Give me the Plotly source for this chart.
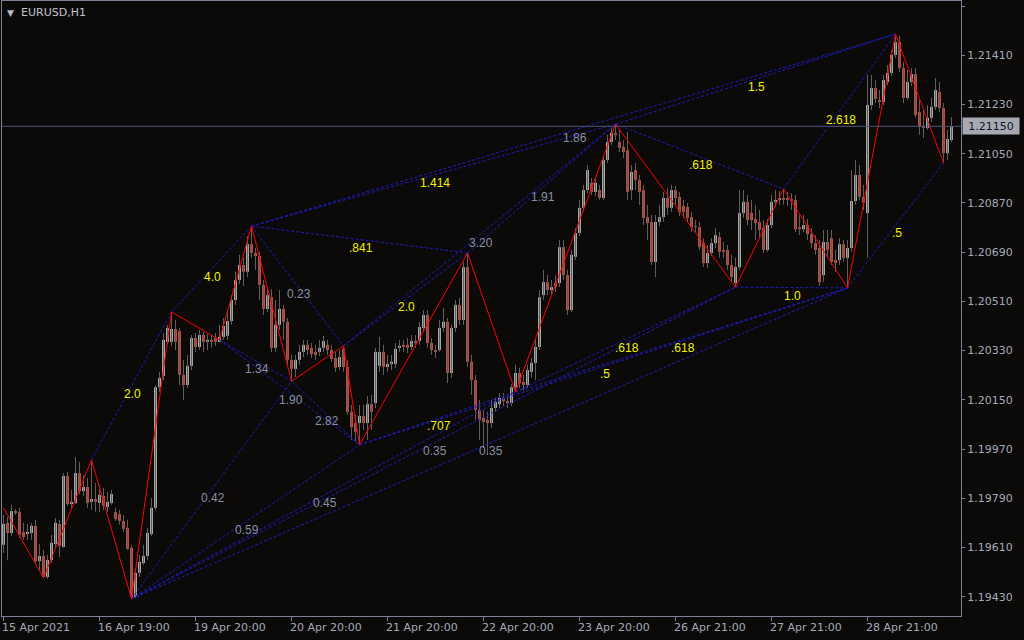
import plotly.graph_objects as go

# ---------------- data (EURUSD H1) ----------------
bar_open = [1.19620,1.19700,1.19663,1.19743,1.19740,1.19667,1.19659,1.19663,1.19689,1.19560,
1.19579,1.19502,1.19564,1.19623,1.19696,1.19612,1.19871,1.19769,1.19773,1.19882,
1.19816,1.19831,1.19777,1.19787,1.19773,1.19798,1.19758,1.19773,1.19740,1.19732,
1.19707,1.19682,1.19609,1.19429,1.19517,1.19553,1.19579,1.19659,1.19755,1.20196,
1.20237,1.20362,1.20362,1.20409,1.20401,1.20241,1.20204,1.20274,1.20376,1.20343,
1.20387,1.20362,1.20369,1.20376,1.20362,1.20380,1.20384,1.20438,1.20515,1.20588,
1.20643,1.20618,1.20719,1.20687,1.20676,1.20570,1.20482,1.20525,1.20340,1.20424,
1.20482,1.20435,1.20296,1.20263,1.20296,1.20325,1.20351,1.20340,1.20325,1.20325,
1.20340,1.20351,1.20332,1.20303,1.20270,1.20336,1.20270,1.20106,1.20065,1.20065,
1.20091,1.20065,1.20134,1.20138,1.20274,1.20325,1.20270,1.20281,1.20281,1.20340,
1.20351,1.20351,1.20343,1.20365,1.20365,1.20413,1.20460,1.20358,1.20332,1.20332,
1.20413,1.20435,1.20248,1.20413,1.20497,1.20442,1.20635,1.20289,1.20222,1.20113,
1.20084,1.20076,1.20065,1.20120,1.20134,1.20157,1.20145,1.20138,1.20196,1.20248,
1.20215,1.20204,1.20252,1.20285,1.20343,1.20533,1.20580,1.20551,1.20577,1.20577,
1.20708,1.20606,1.20478,1.20673,1.20760,1.20852,1.20917,1.20943,1.20910,1.20917,
1.20888,1.21027,1.21093,1.21126,1.21093,1.21075,1.21063,1.20917,1.20990,1.20954,
1.20917,1.20818,1.20800,1.20654,1.20800,1.20818,1.20888,1.20852,1.20917,1.20892,
1.20859,1.20855,1.20818,1.20785,1.20781,1.20723,1.20650,1.20687,1.20723,1.20745,
1.20698,1.20698,1.20643,1.20577,1.20635,1.20833,1.20874,1.20833,1.20811,1.20800,
1.20778,1.20698,1.20789,1.20874,1.20881,1.20888,1.20888,1.20884,1.20881,1.20781,
1.20774,1.20789,1.20756,1.20723,1.20705,1.20606,1.20727,1.20741,1.20661,1.20661,
1.20719,1.20669,1.20705,1.20877,1.20972,1.20892,1.20833,1.21228,1.21290,1.21246,
1.21239,1.21312,1.21345,1.21411,1.21458,1.21363,1.21254,1.21312,1.21341,1.21202,
1.21148,1.21144,1.21181,1.21221,1.21276,1.21217,1.21052,1.21100]

bar_close = [1.19696,1.19663,1.19743,1.19736,1.19656,1.19648,1.19667,1.19689,1.19560,1.19579,
1.19502,1.19564,1.19627,1.19700,1.19616,1.19871,1.19769,1.19777,1.19882,1.19816,
1.19831,1.19773,1.19787,1.19777,1.19802,1.19762,1.19777,1.19805,1.19714,1.19707,
1.19678,1.19605,1.19429,1.19517,1.19557,1.19579,1.19663,1.19755,1.20196,1.20230,
1.20369,1.20413,1.20409,1.20362,1.20241,1.20204,1.20274,1.20376,1.20343,1.20387,
1.20362,1.20369,1.20362,1.20362,1.20380,1.20420,1.20438,1.20515,1.20588,1.20643,
1.20618,1.20719,1.20687,1.20676,1.20570,1.20482,1.20533,1.20340,1.20424,1.20482,
1.20435,1.20296,1.20263,1.20296,1.20325,1.20351,1.20332,1.20317,1.20314,1.20340,
1.20365,1.20332,1.20299,1.20267,1.20306,1.20270,1.20106,1.20050,1.20033,1.20091,
1.20065,1.20134,1.20106,1.20325,1.20325,1.20270,1.20281,1.20289,1.20336,1.20347,
1.20343,1.20340,1.20365,1.20358,1.20416,1.20460,1.20358,1.20332,1.20325,1.20413,
1.20435,1.20248,1.20413,1.20497,1.20442,1.20635,1.20289,1.20222,1.20113,1.20076,
1.20069,1.20065,1.20120,1.20142,1.20157,1.20145,1.20138,1.20196,1.20248,1.20211,
1.20204,1.20259,1.20285,1.20343,1.20525,1.20580,1.20551,1.20562,1.20562,1.20708,
1.20606,1.20478,1.20680,1.20760,1.20852,1.20917,1.20990,1.20910,1.20943,1.20888,
1.21027,1.21093,1.21126,1.21119,1.21071,1.21056,1.20910,1.20983,1.20954,1.20910,
1.20815,1.20796,1.20654,1.20800,1.20818,1.20888,1.20852,1.20917,1.20888,1.20837,
1.20837,1.20815,1.20781,1.20781,1.20708,1.20650,1.20687,1.20723,1.20752,1.20691,
1.20691,1.20643,1.20599,1.20635,1.20833,1.20874,1.20807,1.20807,1.20796,1.20771,
1.20698,1.20789,1.20874,1.20881,1.20888,1.20881,1.20881,1.20877,1.20774,1.20774,
1.20789,1.20756,1.20723,1.20698,1.20580,1.20727,1.20698,1.20654,1.20650,1.20719,
1.20669,1.20705,1.20877,1.20972,1.20892,1.20870,1.21228,1.21290,1.21250,1.21239,
1.21319,1.21345,1.21411,1.21458,1.21363,1.21254,1.21312,1.21341,1.21191,1.21148,
1.21144,1.21181,1.21221,1.21283,1.21217,1.21052,1.21104,1.21150]

bar_high = [1.19729,1.19721,1.19766,1.19751,1.19755,1.19700,1.19696,1.19700,1.19711,1.19623,
1.19601,1.19583,1.19656,1.19718,1.19711,1.19882,1.19886,1.19820,1.19941,1.19923,
1.19875,1.19864,1.19930,1.19846,1.19839,1.19828,1.19813,1.19820,1.19755,1.19747,
1.19729,1.19711,1.19620,1.19528,1.19583,1.19620,1.19682,1.19791,1.20204,1.20252,
1.20394,1.20424,1.20471,1.20442,1.20413,1.20296,1.20314,1.20387,1.20394,1.20405,
1.20398,1.20390,1.20387,1.20394,1.20424,1.20449,1.20478,1.20533,1.20618,1.20680,
1.20669,1.20749,1.20785,1.20705,1.20691,1.20588,1.20559,1.20555,1.20515,1.20551,
1.20497,1.20449,1.20314,1.20314,1.20351,1.20369,1.20369,1.20358,1.20351,1.20369,
1.20384,1.20369,1.20351,1.20325,1.20332,1.20347,1.20296,1.20131,1.20095,1.20131,
1.20131,1.20164,1.20168,1.20340,1.20380,1.20351,1.20314,1.20314,1.20358,1.20369,
1.20369,1.20376,1.20387,1.20387,1.20435,1.20478,1.20478,1.20376,1.20351,1.20442,
1.20486,1.20449,1.20424,1.20515,1.20522,1.20654,1.20687,1.20314,1.20241,1.20149,
1.20113,1.20106,1.20149,1.20157,1.20175,1.20175,1.20164,1.20207,1.20278,1.20267,
1.20241,1.20278,1.20303,1.20369,1.20551,1.20625,1.20606,1.20588,1.20606,1.20734,
1.20734,1.20625,1.20698,1.20778,1.20881,1.20936,1.21009,1.20961,1.20961,1.20936,
1.21045,1.21119,1.21144,1.21158,1.21137,1.21100,1.21130,1.21009,1.21016,1.20972,
1.20936,1.20863,1.20826,1.20826,1.20863,1.20910,1.20925,1.20936,1.20932,1.20910,
1.20881,1.20870,1.20837,1.20807,1.20800,1.20741,1.20716,1.20741,1.20778,1.20764,
1.20727,1.20716,1.20680,1.20669,1.20917,1.20917,1.20899,1.20881,1.20863,1.20844,
1.20807,1.20811,1.20899,1.20917,1.20914,1.20921,1.20910,1.20906,1.20899,1.20826,
1.20826,1.20811,1.20778,1.20752,1.20734,1.20771,1.20771,1.20771,1.20698,1.20741,
1.20734,1.20734,1.20990,1.21027,1.21009,1.20936,1.21338,1.21338,1.21319,1.21283,
1.21338,1.21374,1.21429,1.21487,1.21480,1.21385,1.21356,1.21363,1.21363,1.21246,
1.21210,1.21228,1.21254,1.21327,1.21312,1.21235,1.21137,1.21184]

bar_low = [1.19590,1.19564,1.19652,1.19729,1.19645,1.19638,1.19638,1.19638,1.19553,1.19528,
1.19499,1.19495,1.19553,1.19609,1.19575,1.19609,1.19762,1.19755,1.19769,1.19805,
1.19798,1.19755,1.19747,1.19740,1.19740,1.19747,1.19740,1.19766,1.19707,1.19693,
1.19667,1.19601,1.19422,1.19426,1.19502,1.19546,1.19564,1.19652,1.19747,1.20179,
1.20222,1.20351,1.20347,1.20332,1.20204,1.20149,1.20193,1.20259,1.20325,1.20332,
1.20325,1.20332,1.20340,1.20347,1.20365,1.20369,1.20369,1.20424,1.20497,1.20573,
1.20566,1.20599,1.20669,1.20625,1.20515,1.20460,1.20471,1.20325,1.20325,1.20405,
1.20369,1.20278,1.20218,1.20233,1.20278,1.20306,1.20314,1.20303,1.20296,1.20310,
1.20325,1.20314,1.20289,1.20252,1.20259,1.20252,1.20095,1.20003,1.19996,1.19985,
1.20040,1.20003,1.20040,1.20120,1.20252,1.20241,1.20252,1.20259,1.20267,1.20325,
1.20325,1.20321,1.20332,1.20340,1.20351,1.20398,1.20340,1.20314,1.20303,1.20325,
1.20398,1.20211,1.20230,1.20398,1.20424,1.20424,1.20270,1.20168,1.20076,1.20003,
1.19974,1.19949,1.20047,1.20106,1.20120,1.20127,1.20120,1.20127,1.20179,1.20193,
1.20186,1.20193,1.20230,1.20222,1.20332,1.20515,1.20533,1.20536,1.20544,1.20562,
1.20588,1.20460,1.20471,1.20661,1.20749,1.20837,1.20906,1.20899,1.20895,1.20881,
1.20881,1.21016,1.21082,1.21100,1.21056,1.21034,1.20881,1.20881,1.20917,1.20863,
1.20789,1.20734,1.20643,1.20599,1.20785,1.20800,1.20826,1.20837,1.20863,1.20822,
1.20815,1.20800,1.20764,1.20764,1.20698,1.20635,1.20632,1.20676,1.20705,1.20669,
1.20669,1.20625,1.20581,1.20562,1.20625,1.20815,1.20789,1.20771,1.20734,1.20745,
1.20687,1.20691,1.20778,1.20855,1.20863,1.20863,1.20859,1.20844,1.20764,1.20752,
1.20764,1.20734,1.20705,1.20680,1.20566,1.20580,1.20669,1.20643,1.20618,1.20643,
1.20654,1.20559,1.20691,1.20863,1.20881,1.20844,1.20669,1.21210,1.21235,1.21217,
1.21228,1.21301,1.21334,1.21400,1.21349,1.21235,1.21246,1.21297,1.21181,1.21119,
1.21108,1.21137,1.21166,1.21210,1.21202,1.21016,1.21027,1.21093]

time_label_bars = [0, 24, 48, 72, 96, 120, 144, 168, 192, 216]
time_labels = ["15 Apr 2021", "16 Apr 19:00", "19 Apr 20:00", "20 Apr 20:00", "21 Apr 20:00",
               "22 Apr 20:00", "23 Apr 20:00", "26 Apr 21:00", "27 Apr 21:00", "28 Apr 21:00"]

price_ticks = [1.21590, 1.21410, 1.21230, 1.21050, 1.20870, 1.20690, 1.20510,
               1.20330, 1.20150, 1.19970, 1.19790, 1.19610, 1.19430]
bid_price = 1.21150
symbol_title = "EURUSD,H1"

# zigzag pivots (bar index, price)
pivot_bars = [0, 10, 22, 32, 42, 54, 62, 72, 85, 89, 116, 128, 153, 183, 195, 211, 223, 235]
pivot_prices = [1.19755, 1.19499, 1.19930, 1.19422, 1.20471, 1.20369, 1.20785, 1.20218, 1.20347,
                1.19985, 1.20687, 1.20179, 1.21158, 1.20562, 1.20921, 1.20559, 1.21487, 1.21016]

# pattern ratio lines: from pivot bar, to pivot bar, label
pattern_from = [22, 42, 85, 62, 62, 89, 89, 128, 128, 153, 153, 183, 195, 211]
pattern_to = [42, 62, 116, 116, 153, 128, 211, 183, 211, 195, 223, 211, 223, 235]
pattern_text = ["2.0", "4.0", "2.0", ".841", "1.414", ".707", ".5", ".618", ".618", ".618",
                "1.5", "1.0", "2.618", ".5"]

retr_from = [32, 32, 32, 32, 32, 54, 54, 62, 72, 85, 116, 62]
retr_to = [72, 89, 128, 183, 211, 72, 89, 85, 89, 153, 153, 223]
retr_text = ["0.42", "0.59", "0.45", "0.35", "0.35", "1.34", "1.90", "0.23", "2.82", "3.20",
             "1.91", "1.86"]

# ---------------- styling ----------------
BG = "#0c0a09"
FRAME = "#7c8294"
AXTXT = "#a3a9b8"
BULL = "#a5a5a5"
BEAR = "#c14a3b"
WICK = "#5f5f5f"
ZIG = "#ff0000"
DOT = "#1c1cc0"
YEL = "#f2f200"
GRY = "#8590a6"

n = len(bar_open)
idx = list(range(n))
piv = dict(zip(pivot_bars, pivot_prices))

fig = go.Figure()

# wicks
wx, wy = [], []
for i in idx:
    wx += [i, i, None]
    wy += [bar_low[i], bar_high[i], None]
fig.add_trace(go.Scatter(x=wx, y=wy, mode="lines", line=dict(color=WICK, width=1),
                         hoverinfo="skip", showlegend=False))

# bodies
base = [min(o, c) for o, c in zip(bar_open, bar_close)]
height = [max(abs(c - o), 0.000035) for o, c in zip(bar_open, bar_close)]
cols = [BULL if c >= o else BEAR for o, c in zip(bar_open, bar_close)]
fig.add_trace(go.Bar(x=idx, y=height, base=base, width=0.75,
                     marker=dict(color=cols, line=dict(width=0)),
                     hoverinfo="skip", showlegend=False))

# dotted ratio lines
lx, ly = [], []
for a, b in list(zip(pattern_from, pattern_to)) + list(zip(retr_from, retr_to)):
    lx += [a, b, None]
    ly += [piv[a], piv[b], None]
fig.add_trace(go.Scatter(x=lx, y=ly, mode="lines",
                         line=dict(color=DOT, width=1, dash="3px,2px"),
                         hoverinfo="skip", showlegend=False))

# zigzag
fig.add_trace(go.Scatter(x=pivot_bars, y=pivot_prices, mode="lines",
                         line=dict(color=ZIG, width=1), hoverinfo="skip", showlegend=False))

# bid line
fig.add_shape(type="line", xref="paper", x0=0, x1=1, yref="y", y0=bid_price, y1=bid_price,
              line=dict(color="#4e5478", width=1))

ann = []
def ratio_label(a, b, t, col):
    ann.append(dict(x=(a + b) / 2, y=(piv[a] + piv[b]) / 2, xref="x", yref="y", text=t,
                    showarrow=False, xanchor="center", yanchor="middle", xshift=1, yshift=-8,
                    font=dict(family="Liberation Sans, Arial", size=12, color=col)))

for a, b, t in zip(pattern_from, pattern_to, pattern_text):
    ratio_label(a, b, t, YEL)
for a, b, t in zip(retr_from, retr_to, retr_text):
    ratio_label(a, b, t, GRY)

for b, t in zip(time_label_bars, time_labels):
    ann.append(dict(x=b, y=0, xref="x", yref="paper", text=t, showarrow=False,
                    xanchor="left", yanchor="top", xshift=-4, yshift=-3,
                    font=dict(family="DejaVu Sans", size=11, color=AXTXT)))

ann.append(dict(x=0, y=1, xref="paper", yref="paper", text="▼", showarrow=False,
                xanchor="left", yanchor="top", xshift=3, yshift=-5,
                font=dict(family="DejaVu Sans", size=9, color="#b8bcc6")))
ann.append(dict(x=0, y=1, xref="paper", yref="paper", text=symbol_title, showarrow=False,
                xanchor="left", yanchor="top", xshift=17, yshift=-3,
                font=dict(family="DejaVu Sans", size=11, color="#c0c4cc")))

ann.append(dict(x=1, y=bid_price, xref="paper", yref="y", text=f"{bid_price:.5f}",
                showarrow=False, xanchor="left", yanchor="middle", xshift=1,
                width=54, height=14, align="center",
                bgcolor="#a6a9b2", borderpad=1,
                font=dict(family="DejaVu Sans", size=11, color="#15151f")))

fig.update_layout(
    width=1024, height=640,
    margin=dict(l=2, r=63, t=1, b=24),
    paper_bgcolor=BG, plot_bgcolor=BG,
    barmode="overlay",
    annotations=ann,
    xaxis=dict(range=[-0.375, 239.375], showgrid=False, zeroline=False,
               showline=True, linecolor=FRAME, linewidth=1, mirror=True,
               tickmode="array", tickvals=time_label_bars, ticks="outside", ticklen=4,
               tickcolor=FRAME, showticklabels=False, fixedrange=True),
    yaxis=dict(range=[1.193594, 1.216083], side="right", showgrid=False, zeroline=False,
               showline=True, linecolor=FRAME, linewidth=1, mirror=True,
               tickmode="array", tickvals=price_ticks,
               ticktext=[f"{v:.5f}" for v in price_ticks],
               ticks="outside", ticklen=3, tickcolor=FRAME,
               tickfont=dict(family="DejaVu Sans", size=11, color=AXTXT), fixedrange=True),
)

fig.write_html("out.html",
               config={"displayModeBar": False, "staticPlot": True},
               post_script="document.body.style.margin='0';document.body.style.background='"
                           + BG + "';")
